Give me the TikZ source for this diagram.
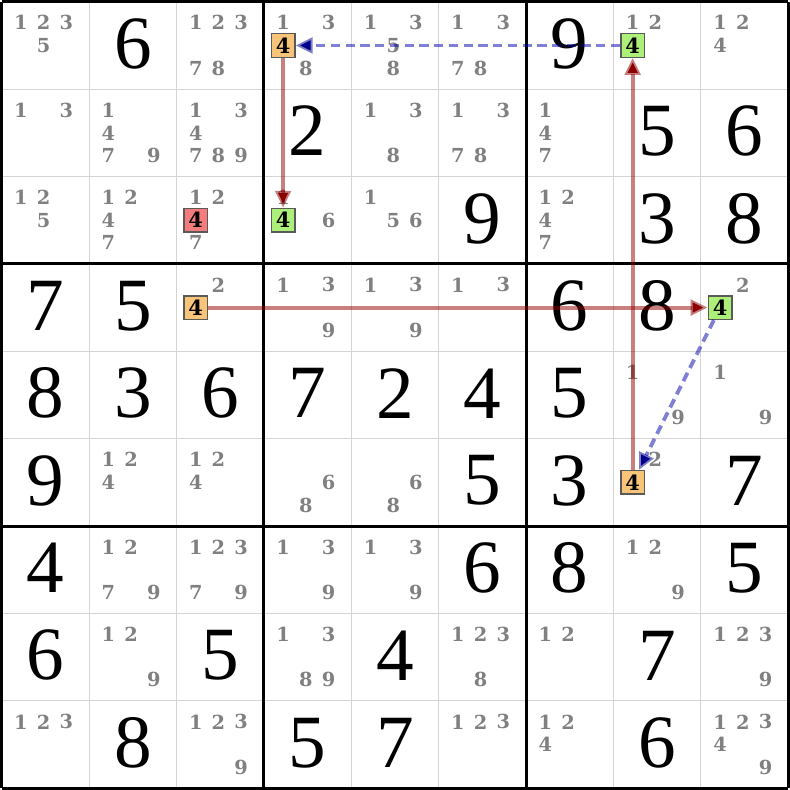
\documentclass[tikz,border=0pt]{standalone}
\usepackage{fontspec}
\setmainfont{Liberation Serif}
\newfontfamily\candfont{DejaVu Serif}
\usetikzlibrary{arrows.meta}
\definecolor{candgray}{RGB}{128,128,128}
\definecolor{gridgray}{RGB}{212,212,212}
\definecolor{onfill}{RGB}{248,196,122}
\definecolor{offfill}{RGB}{172,240,122}
\definecolor{badfill}{RGB}{244,124,124}
\definecolor{strongline}{RGB}{150,0,0}
\definecolor{weakline}{RGB}{0,0,170}
\definecolor{strongtip}{RGB}{140,0,0}
\definecolor{weaktip}{RGB}{0,0,140}

\begin{document}
\begin{tikzpicture}[x=1cm,y=1cm,
  given/.style={inner sep=0pt,font=\fontsize{24.5}{24.5}\selectfont},
  cand/.style={inner sep=0pt,text=candgray,font=\candfont\bfseries\fontsize{6.3}{6.3}\selectfont},
  hbox/.style={draw=black!65,line width=0.45pt,minimum size=0.27cm,inner sep=0pt,font=\candfont\bfseries\fontsize{6.8}{6.8}\selectfont},
  strong/.style={strongline,draw opacity=0.5,line width=1.25pt,-{Triangle[length=5.5pt,width=5pt,color=strongtip]}},
  weak/.style={weakline,draw opacity=0.5,line width=1.25pt,dash pattern=on 3pt off 1.8pt,-{Triangle[length=5.5pt,width=5pt,color=weaktip]}},
]
\useasboundingbox (-0.02,0.02) rectangle (9.02,-9.02);
%%
\draw [gridgray,line width=0.33pt] (0,0) grid (9,-9);
\draw [black,line width=1pt] (0,0) grid[step=3] (9,-9);
%
\node (given_0_1) at (1.5,-0.48) [given] {6};
\node (given_0_6) at (6.5,-0.48) [given] {9};
\node (given_1_3) at (3.5,-1.48) [given] {2};
\node (given_1_7) at (7.5,-1.48) [given] {5};
\node (given_1_8) at (8.5,-1.48) [given] {6};
\node (given_2_5) at (5.5,-2.48) [given] {9};
\node (given_2_7) at (7.5,-2.48) [given] {3};
\node (given_2_8) at (8.5,-2.48) [given] {8};
\node (given_3_0) at (0.5,-3.48) [given] {7};
\node (given_3_1) at (1.5,-3.48) [given] {5};
\node (given_3_6) at (6.5,-3.48) [given] {6};
\node (given_3_7) at (7.5,-3.48) [given] {8};
\node (given_4_0) at (0.5,-4.48) [given] {8};
\node (given_4_1) at (1.5,-4.48) [given] {3};
\node (given_4_2) at (2.5,-4.48) [given] {6};
\node (given_4_3) at (3.5,-4.48) [given] {7};
\node (given_4_4) at (4.5,-4.48) [given] {2};
\node (given_4_5) at (5.5,-4.48) [given] {4};
\node (given_4_6) at (6.5,-4.48) [given] {5};
\node (given_5_0) at (0.5,-5.48) [given] {9};
\node (given_5_5) at (5.5,-5.48) [given] {5};
\node (given_5_6) at (6.5,-5.48) [given] {3};
\node (given_5_8) at (8.5,-5.48) [given] {7};
\node (given_6_0) at (0.5,-6.48) [given] {4};
\node (given_6_5) at (5.5,-6.48) [given] {6};
\node (given_6_6) at (6.5,-6.48) [given] {8};
\node (given_6_8) at (8.5,-6.48) [given] {5};
\node (given_7_0) at (0.5,-7.48) [given] {6};
\node (given_7_2) at (2.5,-7.48) [given] {5};
\node (given_7_4) at (4.5,-7.48) [given] {4};
\node (given_7_7) at (7.5,-7.48) [given] {7};
\node (given_8_1) at (1.5,-8.48) [given] {8};
\node (given_8_3) at (3.5,-8.48) [given] {5};
\node (given_8_4) at (4.5,-8.48) [given] {7};
\node (given_8_7) at (7.5,-8.48) [given] {6};
%
\node (cand_0_0_1) at (0.22,-0.24) [cand] {1};
\node (cand_0_0_2) at (0.48,-0.24) [cand] {2};
\node (cand_0_0_3) at (0.74,-0.24) [cand] {3};
\node (cand_0_0_5) at (0.48,-0.50) [cand] {5};
\node (cand_0_2_1) at (2.22,-0.24) [cand] {1};
\node (cand_0_2_2) at (2.48,-0.24) [cand] {2};
\node (cand_0_2_3) at (2.74,-0.24) [cand] {3};
\node (cand_0_2_7) at (2.22,-0.76) [cand] {7};
\node (cand_0_2_8) at (2.48,-0.76) [cand] {8};
\node (cand_0_3_1) at (3.22,-0.24) [cand] {1};
\node (cand_0_3_3) at (3.74,-0.24) [cand] {3};
\node (cand_0_3_8) at (3.48,-0.76) [cand] {8};
\node (cand_0_4_1) at (4.22,-0.24) [cand] {1};
\node (cand_0_4_3) at (4.74,-0.24) [cand] {3};
\node (cand_0_4_5) at (4.48,-0.50) [cand] {5};
\node (cand_0_4_8) at (4.48,-0.76) [cand] {8};
\node (cand_0_5_1) at (5.22,-0.24) [cand] {1};
\node (cand_0_5_3) at (5.74,-0.24) [cand] {3};
\node (cand_0_5_7) at (5.22,-0.76) [cand] {7};
\node (cand_0_5_8) at (5.48,-0.76) [cand] {8};
\node (cand_0_7_1) at (7.22,-0.24) [cand] {1};
\node (cand_0_7_2) at (7.48,-0.24) [cand] {2};
\node (cand_0_8_1) at (8.22,-0.24) [cand] {1};
\node (cand_0_8_2) at (8.48,-0.24) [cand] {2};
\node (cand_0_8_4) at (8.22,-0.50) [cand] {4};
\node (cand_1_0_1) at (0.22,-1.24) [cand] {1};
\node (cand_1_0_3) at (0.74,-1.24) [cand] {3};
\node (cand_1_1_1) at (1.22,-1.24) [cand] {1};
\node (cand_1_1_4) at (1.22,-1.50) [cand] {4};
\node (cand_1_1_7) at (1.22,-1.76) [cand] {7};
\node (cand_1_1_9) at (1.74,-1.76) [cand] {9};
\node (cand_1_2_1) at (2.22,-1.24) [cand] {1};
\node (cand_1_2_3) at (2.74,-1.24) [cand] {3};
\node (cand_1_2_4) at (2.22,-1.50) [cand] {4};
\node (cand_1_2_7) at (2.22,-1.76) [cand] {7};
\node (cand_1_2_8) at (2.48,-1.76) [cand] {8};
\node (cand_1_2_9) at (2.74,-1.76) [cand] {9};
\node (cand_1_4_1) at (4.22,-1.24) [cand] {1};
\node (cand_1_4_3) at (4.74,-1.24) [cand] {3};
\node (cand_1_4_8) at (4.48,-1.76) [cand] {8};
\node (cand_1_5_1) at (5.22,-1.24) [cand] {1};
\node (cand_1_5_3) at (5.74,-1.24) [cand] {3};
\node (cand_1_5_7) at (5.22,-1.76) [cand] {7};
\node (cand_1_5_8) at (5.48,-1.76) [cand] {8};
\node (cand_1_6_1) at (6.22,-1.24) [cand] {1};
\node (cand_1_6_4) at (6.22,-1.50) [cand] {4};
\node (cand_1_6_7) at (6.22,-1.76) [cand] {7};
\node (cand_2_0_1) at (0.22,-2.24) [cand] {1};
\node (cand_2_0_2) at (0.48,-2.24) [cand] {2};
\node (cand_2_0_5) at (0.48,-2.50) [cand] {5};
\node (cand_2_1_1) at (1.22,-2.24) [cand] {1};
\node (cand_2_1_2) at (1.48,-2.24) [cand] {2};
\node (cand_2_1_4) at (1.22,-2.50) [cand] {4};
\node (cand_2_1_7) at (1.22,-2.76) [cand] {7};
\node (cand_2_2_1) at (2.22,-2.24) [cand] {1};
\node (cand_2_2_2) at (2.48,-2.24) [cand] {2};
\node (cand_2_2_7) at (2.22,-2.76) [cand] {7};
\node (cand_2_3_1) at (3.22,-2.24) [cand] {1};
\node (cand_2_3_6) at (3.74,-2.50) [cand] {6};
\node (cand_2_4_1) at (4.22,-2.24) [cand] {1};
\node (cand_2_4_5) at (4.48,-2.50) [cand] {5};
\node (cand_2_4_6) at (4.74,-2.50) [cand] {6};
\node (cand_2_6_1) at (6.22,-2.24) [cand] {1};
\node (cand_2_6_2) at (6.48,-2.24) [cand] {2};
\node (cand_2_6_4) at (6.22,-2.50) [cand] {4};
\node (cand_2_6_7) at (6.22,-2.76) [cand] {7};
\node (cand_3_2_2) at (2.48,-3.24) [cand] {2};
\node (cand_3_3_1) at (3.22,-3.24) [cand] {1};
\node (cand_3_3_3) at (3.74,-3.24) [cand] {3};
\node (cand_3_3_9) at (3.74,-3.76) [cand] {9};
\node (cand_3_4_1) at (4.22,-3.24) [cand] {1};
\node (cand_3_4_3) at (4.74,-3.24) [cand] {3};
\node (cand_3_4_9) at (4.74,-3.76) [cand] {9};
\node (cand_3_5_1) at (5.22,-3.24) [cand] {1};
\node (cand_3_5_3) at (5.74,-3.24) [cand] {3};
\node (cand_3_8_2) at (8.48,-3.24) [cand] {2};
\node (cand_4_7_1) at (7.22,-4.24) [cand] {1};
\node (cand_4_7_9) at (7.74,-4.76) [cand] {9};
\node (cand_4_8_1) at (8.22,-4.24) [cand] {1};
\node (cand_4_8_9) at (8.74,-4.76) [cand] {9};
\node (cand_5_1_1) at (1.22,-5.24) [cand] {1};
\node (cand_5_1_2) at (1.48,-5.24) [cand] {2};
\node (cand_5_1_4) at (1.22,-5.50) [cand] {4};
\node (cand_5_2_1) at (2.22,-5.24) [cand] {1};
\node (cand_5_2_2) at (2.48,-5.24) [cand] {2};
\node (cand_5_2_4) at (2.22,-5.50) [cand] {4};
\node (cand_5_3_6) at (3.74,-5.50) [cand] {6};
\node (cand_5_3_8) at (3.48,-5.76) [cand] {8};
\node (cand_5_4_6) at (4.74,-5.50) [cand] {6};
\node (cand_5_4_8) at (4.48,-5.76) [cand] {8};
\node (cand_5_7_2) at (7.48,-5.24) [cand] {2};
\node (cand_6_1_1) at (1.22,-6.24) [cand] {1};
\node (cand_6_1_2) at (1.48,-6.24) [cand] {2};
\node (cand_6_1_7) at (1.22,-6.76) [cand] {7};
\node (cand_6_1_9) at (1.74,-6.76) [cand] {9};
\node (cand_6_2_1) at (2.22,-6.24) [cand] {1};
\node (cand_6_2_2) at (2.48,-6.24) [cand] {2};
\node (cand_6_2_3) at (2.74,-6.24) [cand] {3};
\node (cand_6_2_7) at (2.22,-6.76) [cand] {7};
\node (cand_6_2_9) at (2.74,-6.76) [cand] {9};
\node (cand_6_3_1) at (3.22,-6.24) [cand] {1};
\node (cand_6_3_3) at (3.74,-6.24) [cand] {3};
\node (cand_6_3_9) at (3.74,-6.76) [cand] {9};
\node (cand_6_4_1) at (4.22,-6.24) [cand] {1};
\node (cand_6_4_3) at (4.74,-6.24) [cand] {3};
\node (cand_6_4_9) at (4.74,-6.76) [cand] {9};
\node (cand_6_7_1) at (7.22,-6.24) [cand] {1};
\node (cand_6_7_2) at (7.48,-6.24) [cand] {2};
\node (cand_6_7_9) at (7.74,-6.76) [cand] {9};
\node (cand_7_1_1) at (1.22,-7.24) [cand] {1};
\node (cand_7_1_2) at (1.48,-7.24) [cand] {2};
\node (cand_7_1_9) at (1.74,-7.76) [cand] {9};
\node (cand_7_3_1) at (3.22,-7.24) [cand] {1};
\node (cand_7_3_3) at (3.74,-7.24) [cand] {3};
\node (cand_7_3_8) at (3.48,-7.76) [cand] {8};
\node (cand_7_3_9) at (3.74,-7.76) [cand] {9};
\node (cand_7_5_1) at (5.22,-7.24) [cand] {1};
\node (cand_7_5_2) at (5.48,-7.24) [cand] {2};
\node (cand_7_5_3) at (5.74,-7.24) [cand] {3};
\node (cand_7_5_8) at (5.48,-7.76) [cand] {8};
\node (cand_7_6_1) at (6.22,-7.24) [cand] {1};
\node (cand_7_6_2) at (6.48,-7.24) [cand] {2};
\node (cand_7_8_1) at (8.22,-7.24) [cand] {1};
\node (cand_7_8_2) at (8.48,-7.24) [cand] {2};
\node (cand_7_8_3) at (8.74,-7.24) [cand] {3};
\node (cand_7_8_9) at (8.74,-7.76) [cand] {9};
\node (cand_8_0_1) at (0.22,-8.24) [cand] {1};
\node (cand_8_0_2) at (0.48,-8.24) [cand] {2};
\node (cand_8_0_3) at (0.74,-8.24) [cand] {3};
\node (cand_8_2_1) at (2.22,-8.24) [cand] {1};
\node (cand_8_2_2) at (2.48,-8.24) [cand] {2};
\node (cand_8_2_3) at (2.74,-8.24) [cand] {3};
\node (cand_8_2_9) at (2.74,-8.76) [cand] {9};
\node (cand_8_5_1) at (5.22,-8.24) [cand] {1};
\node (cand_8_5_2) at (5.48,-8.24) [cand] {2};
\node (cand_8_5_3) at (5.74,-8.24) [cand] {3};
\node (cand_8_6_1) at (6.22,-8.24) [cand] {1};
\node (cand_8_6_2) at (6.48,-8.24) [cand] {2};
\node (cand_8_6_4) at (6.22,-8.50) [cand] {4};
\node (cand_8_8_1) at (8.22,-8.24) [cand] {1};
\node (cand_8_8_2) at (8.48,-8.24) [cand] {2};
\node (cand_8_8_3) at (8.74,-8.24) [cand] {3};
\node (cand_8_8_4) at (8.22,-8.50) [cand] {4};
\node (cand_8_8_9) at (8.74,-8.76) [cand] {9};
%
\node (box_0_3) at (3.22,-0.50) [hbox,fill=onfill] {4};
\node (box_0_7) at (7.22,-0.50) [hbox,fill=offfill] {4};
\node (box_2_2) at (2.22,-2.50) [hbox,fill=badfill] {4};
\node (box_2_3) at (3.22,-2.50) [hbox,fill=offfill] {4};
\node (box_3_2) at (2.22,-3.50) [hbox,fill=onfill] {4};
\node (box_3_8) at (8.22,-3.50) [hbox,fill=offfill] {4};
\node (box_5_7) at (7.22,-5.50) [hbox,fill=onfill] {4};
%
\draw [weak] (box_0_7) -- (box_0_3);
\draw [strong] (box_0_3) -- (box_2_3);
\draw [strong] (box_3_2) -- (box_3_8);
\draw [weak] (box_3_8) -- (box_5_7);
\draw [strong] (box_5_7) -- (box_0_7);
%
\end{tikzpicture}
\end{document}
